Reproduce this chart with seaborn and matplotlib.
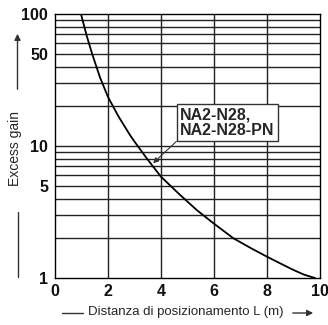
import matplotlib
matplotlib.use("Agg")
import matplotlib.pyplot as plt
import seaborn as sns
import pandas as pd
from matplotlib.lines import Line2D
from matplotlib.patches import FancyArrowPatch

distance = [0.98, 1.2, 1.4, 1.7, 2.0, 2.4, 2.83, 3.0, 3.46, 4.0, 4.72, 5.35,
            6.0, 6.73, 7.4, 8.0, 8.5, 9.0, 9.4, 9.81]
gain = [100, 68, 50, 33, 23.5, 16.7, 12.1, 10.8, 8.07, 5.85, 4.26, 3.27,
        2.58, 2.0, 1.68, 1.45, 1.29, 1.15, 1.06, 1.0]
x_ticks = [0, 2, 4, 6, 8, 10]
y_ticks = [1, 5, 10, 50, 100]
y_minor = [2, 3, 4, 6, 7, 8, 9, 20, 30, 40, 60, 70, 80, 90]
label_text = "NA2-N28,\nNA2-N28-PN"

sns.set_style("white")
plt.rcParams['font.family'] = ['Liberation Sans', 'DejaVu Sans']

df = pd.DataFrame({"L": distance, "gain": gain})

fig = plt.figure(figsize=(3.28, 3.25), dpi=100)
ax = fig.add_axes([55/328, 47/325, 265/328, 264/325])

sns.lineplot(data=df, x="L", y="gain", ax=ax, color="black", linewidth=1.3)
ax.set_yscale("log")
ax.set_xlim(0, 10)
ax.set_ylim(1, 100)

for v in x_ticks[1:-1]:
    ax.axvline(v, color="#222222", lw=1.0, zorder=0)
for v in y_ticks[1:-1] + y_minor:
    ax.axhline(v, color="#222222", lw=1.0, zorder=0)

ax.set_xticks(x_ticks)
ax.set_xticklabels([str(t) for t in x_ticks])
ax.set_yticks(y_ticks)
ax.set_yticklabels([str(t) for t in y_ticks])
ax.yaxis.set_minor_locator(matplotlib.ticker.NullLocator())
ax.tick_params(axis="y", which="major", direction="out", length=4, width=1,
               labelsize=11.5, color="black", pad=1)
ax.tick_params(axis="x", which="major", direction="out", length=3, width=1,
               labelsize=11.5, color="black", pad=1)
for lab in ax.get_xticklabels() + ax.get_yticklabels():
    lab.set_fontweight("bold")
    lab.set_color("#111111")
for s in ax.spines.values():
    s.set_color("black")
    s.set_linewidth(1.0)
ax.set_xlabel("")
ax.set_ylabel("")

ax.annotate(label_text, xy=(3.7, 7.4), xytext=(4.72, 11.5),
            fontsize=11.5, fontweight="bold", ha="left", va="bottom",
            linespacing=1.05,
            bbox=dict(boxstyle="square,pad=0.2", fc="white", ec="#333333", lw=1.0),
            arrowprops=dict(arrowstyle="-|>", color="#333333", lw=0.8,
                            mutation_scale=8, shrinkA=0, shrinkB=0, relpos=(0, 0)))

W, H = 328, 325
def fx(p): return p / W
def fy(p): return 1 - p / H

fig.text(fx(15), fy(148), "Excess gain", rotation=90, ha="center", va="center", fontsize=10)
fig.add_artist(FancyArrowPatch((fx(17.5), fy(92)), (fx(17.5), fy(31)),
                               transform=fig.transFigure, arrowstyle="-|>",
                               mutation_scale=9, color="#333333", lw=1.0))
fig.add_artist(Line2D([fx(17.5), fx(17.5)], [fy(212), fy(277)],
                      transform=fig.transFigure, color="#333333", lw=1.0))

fig.text(fx(186), fy(312), "Distanza di posizionamento L (m)", ha="center", va="center", fontsize=9.5)
fig.add_artist(Line2D([fx(62), fx(83)], [fy(313), fy(313)],
                      transform=fig.transFigure, color="#333333", lw=1.0))
fig.add_artist(FancyArrowPatch((fx(290), fy(313)), (fx(316), fy(313)),
                               transform=fig.transFigure, arrowstyle="-|>",
                               mutation_scale=9, color="#333333", lw=1.0))

fig.savefig("out.png", dpi=100)
